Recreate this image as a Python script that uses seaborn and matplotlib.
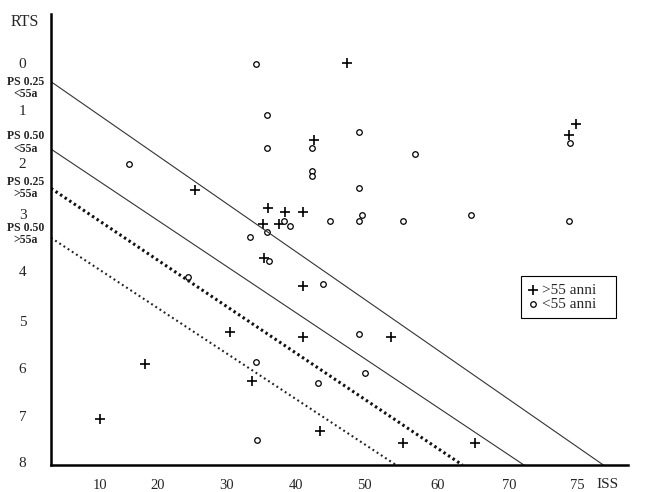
import matplotlib
matplotlib.use('Agg')
import matplotlib.pyplot as plt
import seaborn as sns
import numpy as np

# patients older than 55 (+)
old_iss = [47.4, 74.4, 74.9, 42.5, 25.5, 35.9, 38.4, 40.9, 35.2, 37.5, 35.3,
           40.9, 30.5, 40.9, 53.6, 17.9, 33.7, 10.0, 43.4, 55.2, 65.3]
old_rts = [0.0, 1.47, 1.27, 1.57, 2.54, 2.89, 2.97, 2.97, 3.17, 3.17, 3.77,
           4.31, 5.23, 5.34, 5.35, 5.92, 6.27, 7.08, 7.34, 7.59, 7.59]

# patients younger than 55 (o)
young_iss = [34.2, 35.8, 49.1, 35.8, 42.3, 56.9, 15.1, 42.3, 42.3, 49.1,
             49.6, 49.1, 44.9, 38.2, 39.1, 35.8, 33.4, 55.3, 64.7, 74.4,
             74.5, 36.1, 24.5, 43.9, 49.1, 50.0, 34.2, 43.1, 34.3]
young_rts = [0.03, 1.09, 1.41, 1.72, 1.72, 1.83, 2.03, 2.16, 2.26, 2.49,
             3.02, 3.12, 3.12, 3.12, 3.22, 3.32, 3.41, 3.12, 3.02, 3.12,
             1.62, 3.82, 4.13, 4.26, 5.28, 6.10, 5.87, 6.31, 7.52]

# probability of survival iso-lines: RTS at left edge, ISS where they reach RTS 8
ps_labels = ["PS 0.25\n<55a", "PS 0.50\n<55a", "PS 0.25\n>55a", "PS 0.50\n>55a"]
ps_rts_start = [0.40, 1.74, 2.50, 3.42]
ps_iss_end = [76.9, 71.1, 63.5, 54.3]
ps_label_rts = [0.53, 1.62, 2.49, 3.35]

iss_ticks = [10, 20, 30, 40, 50, 60, 70, 75]
rts_ticks = [0, 1, 2, 3, 4, 5, 6, 7, 8]

# the original axes are not evenly spaced, so use a piecewise scale
ISS_POS = [100.3, 157.1, 226.7, 296.4, 364.9, 437.5, 509.0, 577.5]
RTS_POS = [63, 110, 163, 214, 271, 321, 368, 416, 462]


def piecewise(vals, pos):
    vals = np.asarray(vals, float)
    pos = np.asarray(pos, float)

    def conv(v, a, b):
        v = np.asarray(v, float)
        out = np.interp(v, a, b)
        s0 = (b[1] - b[0]) / (a[1] - a[0])
        s1 = (b[-1] - b[-2]) / (a[-1] - a[-2])
        out = np.where(v < a[0], b[0] + (v - a[0]) * s0, out)
        out = np.where(v > a[-1], b[-1] + (v - a[-1]) * s1, out)
        return out

    return (lambda v: conv(v, vals, pos)), (lambda p: conv(p, pos, vals))


sns.set_style("white")
plt.rcParams['font.family'] = ['Liberation Serif', 'DejaVu Serif']

fig = plt.figure(figsize=(6.5, 4.92), dpi=100)
ax = fig.add_axes([51 / 650, 27 / 492, 577 / 650, 451 / 492])

ax.set_xscale('function', functions=piecewise(iss_ticks, ISS_POS))
ax.set_yscale('function', functions=piecewise(rts_ticks, RTS_POS))
xlim = (1.3, 78.7)
ylim = (8.07, -1.04)

line_styles = [
    dict(color='#333333', lw=0.8, ls='-'),
    dict(color='#333333', lw=0.8, ls='-'),
    dict(color='#111111', lw=2.2, ls=(0, (0.8, 1.0))),
    dict(color='#222222', lw=1.5, ls=(0, (0.9, 1.5))),
]
for start, end, st in zip(ps_rts_start, ps_iss_end, line_styles):
    ax.plot([xlim[0], end], [start, ylim[0]], **st)

sns.scatterplot(x=old_iss, y=old_rts, marker='+', s=60, color='black',
                linewidth=1.2, label='>55 anni', ax=ax)
sns.scatterplot(x=young_iss, y=young_rts, marker='o', s=16, facecolor='white',
                edgecolor='black', linewidth=0.9, label='<55 anni', ax=ax)

ax.set_xlim(*xlim)
ax.set_ylim(*ylim)
ax.set_xticks(iss_ticks)
ax.set_xticklabels([str(t) for t in iss_ticks])
ax.set_yticks(rts_ticks)
ax.set_yticklabels([str(t) for t in rts_ticks])
ax.minorticks_off()
ax.tick_params(axis='x', direction='out', length=4, width=1, pad=6, labelsize=10.5)
ax.tick_params(axis='y', direction='out', length=5, width=1, pad=12.7, labelsize=11)
ax.set_xlabel('')
ax.set_ylabel('')

for side in ['top', 'right']:
    ax.spines[side].set_visible(False)
for side in ['left', 'bottom']:
    ax.spines[side].set_linewidth(1.8)
    ax.spines[side].set_color('black')

for lab, pos in zip(ps_labels, ps_label_rts):
    ax.text(-0.0433, pos, lab, transform=ax.get_yaxis_transform(),
            ha='center', va='center', fontsize=8.5, fontweight='bold',
            linespacing=1.05)

fig.text(25 / 650, 1 - 22 / 492, 'RTS', ha='center', va='center', fontsize=11.5)
fig.text(607 / 650, 1 - 484 / 492, 'ISS', ha='center', va='center', fontsize=11)

leg = ax.legend(loc='upper left', bbox_to_anchor=(0.8146, 0.419, 0.1646, 0.0),
                mode='expand', frameon=True, fancybox=False, edgecolor='black',
                framealpha=1, handlelength=0.7, handletextpad=0.25,
                borderpad=0.45, borderaxespad=0.0, labelspacing=0.05,
                fontsize=11)
leg.get_frame().set_linewidth(0.8)

plt.savefig('out.png', dpi=100)
plt.close()
